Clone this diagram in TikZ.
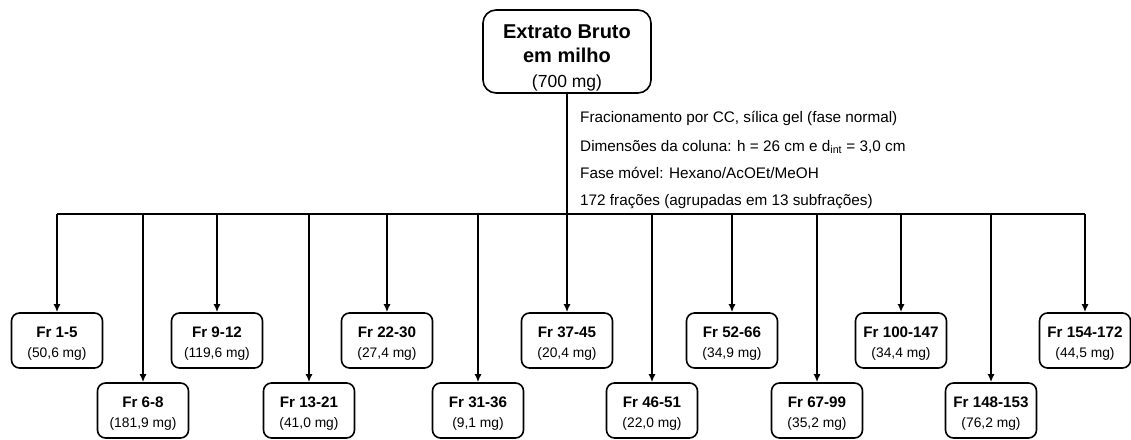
\documentclass[tikz,border=0pt]{standalone}
\usepackage{fontspec}
\setmainfont{Liberation Sans}
\usetikzlibrary{arrows.meta}
\tikzset{
  fbox/.style={draw, line width=1.6pt, rounded corners=8pt, minimum width=91pt, minimum height=55pt, inner sep=0pt, align=center, font=\fontsize{13.8}{19.5}\selectfont},
  conn/.style={line width=1.6pt},
  arr/.style={line width=1.6pt, -{Latex[length=8pt,width=7pt]}},
  note/.style={anchor=west, inner sep=0pt, font=\fontsize{15.3}{18}\selectfont}
}
\newcommand{\frl}[2]{{\fontsize{15.2}{19}\selectfont\bfseries\rule{0pt}{16.5pt}#1}\\#2}
\begin{document}
\begin{tikzpicture}[x=1pt,y=-1pt]
\useasboundingbox (0,0) rectangle (1131,439);
\node[fbox, minimum width=168pt, minimum height=83pt, rounded corners=13pt, font=\fontsize{17.5}{24.5}\selectfont] (top) at (567,51.5)
  {{\fontsize{20}{24.5}\selectfont\bfseries\rule{0pt}{26pt}Extrato Bruto}\\{\fontsize{20}{24.5}\selectfont\bfseries em milho}\\(700 mg)};
% fraction boxes
\node[fbox] (f1) at (57,340.5) {\frl{Fr 1-5}{(50,6 mg)}};
\node[fbox] (f2) at (143,410.5) {\frl{Fr 6-8}{(181,9 mg)}};
\node[fbox] (f3) at (217,340.5) {\frl{Fr 9-12}{(119,6 mg)}};
\node[fbox] (f4) at (309,410.5) {\frl{Fr 13-21}{(41,0 mg)}};
\node[fbox] (f5) at (387,340.5) {\frl{Fr 22-30}{(27,4 mg)}};
\node[fbox] (f6) at (478,410.5) {\frl{Fr 31-36}{(9,1 mg)}};
\node[fbox] (f7) at (567,340.5) {\frl{Fr 37-45}{(20,4 mg)}};
\node[fbox] (f8) at (652,410.5) {\frl{Fr 46-51}{(22,0 mg)}};
\node[fbox] (f9) at (732,340.5) {\frl{Fr 52-66}{(34,9 mg)}};
\node[fbox] (f10) at (817,410.5) {\frl{Fr 67-99}{(35,2 mg)}};
\node[fbox] (f11) at (901,340.5) {\frl{Fr 100-147}{(34,4 mg)}};
\node[fbox] (f12) at (991,410.5) {\frl{Fr 148-153}{(76,2 mg)}};
\node[fbox] (f13) at (1085,340.5) {\frl{Fr 154-172}{(44,5 mg)}};
% bar coordinates
\foreach \i/\x in {1/57,2/143,3/217,4/309,5/387,6/478,7/567,8/652,9/732,10/817,11/901,12/991,13/1085}
  \coordinate (b\i) at (\x,214);
\draw[conn] (b1) -- (b13);
\draw[conn] (top.south) -- (b7);
\foreach \i in {1,...,13}
  \draw[arr] (b\i) -- (f\i.north);
% notes
\node[note] (n1) at (580,118) {Fracionamento por CC, sílica gel (fase normal)};
\node[note] (n2) at (580,147) {Dimensões da coluna: h = 26 cm e d\textsubscript{int} = 3,0 cm};
\node[note] (n3) at (580,173) {Fase móvel: Hexano/AcOEt/MeOH};
\node[note] (n4) at (580,202) {172 frações (agrupadas em 13 subfrações)};
\end{tikzpicture}
\end{document}
